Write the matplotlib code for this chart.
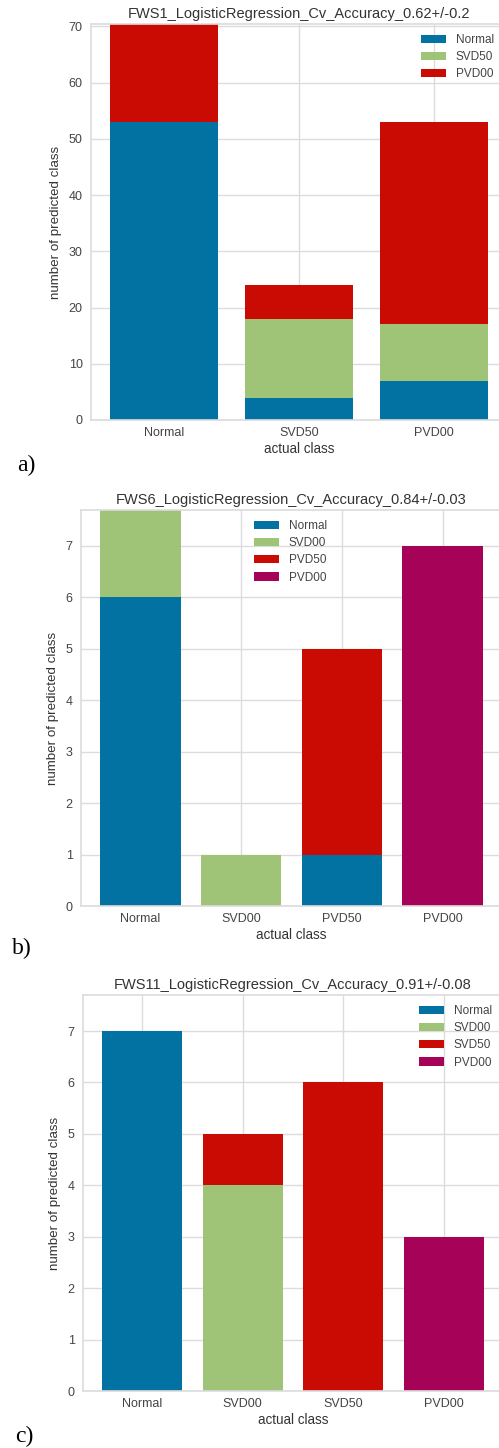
import numpy as np
import matplotlib
matplotlib.use("Agg")
import matplotlib.pyplot as plt

# class prediction error, three feature sets
A_TITLE = "FWS1_LogisticRegression_Cv_Accuracy_0.62+/-0.2"
A_CLASSES = ["Normal", "SVD50", "PVD00"]
A_COUNTS = [
    [53, 4, 7],    # predicted Normal
    [0, 14, 10],   # predicted SVD50
    [18, 6, 36],   # predicted PVD00
]

B_TITLE = "FWS6_LogisticRegression_Cv_Accuracy_0.84+/-0.03"
B_CLASSES = ["Normal", "SVD00", "PVD50", "PVD00"]
B_COUNTS = [
    [6, 0, 1, 0],
    [2, 1, 0, 0],
    [0, 0, 4, 0],
    [0, 0, 0, 7],
]

C_TITLE = "FWS11_LogisticRegression_Cv_Accuracy_0.91+/-0.08"
C_CLASSES = ["Normal", "SVD00", "SVD50", "PVD00"]
C_COUNTS = [
    [7, 0, 0, 0],
    [0, 4, 0, 0],
    [0, 1, 6, 0],
    [0, 0, 0, 3],
]

COLORS = ["#0272a2", "#9fc377", "#ca0b03", "#a50258"]

W, H = 499, 1448
TEXT = "#444444"
GRID = "#dcdcdc"

plt.rcParams["font.family"] = ["Liberation Sans", "DejaVu Sans"]

fig = plt.figure(figsize=(W / 100, H / 100), dpi=100)


def px_axes(left, top, right, bottom):
    return fig.add_axes([left / W, 1 - bottom / H, (right - left) / W, (bottom - top) / H])


def draw_panel(box, title, classes, counts, legend_xy, tag, tag_xy):
    ax = px_axes(*box)
    idx = np.arange(len(classes))
    prev = np.zeros(len(classes))
    for row, name, color in zip(counts, classes, COLORS):
        ax.bar(idx, row, bottom=prev, width=0.8, color=color, label=name,
               linewidth=0, zorder=2)
        prev += np.array(row)
    cmax = max(sum(r) for r in counts)
    ax.set_ylim(0, cmax * 1.1)
    n = len(classes)
    ax.set_xlim(-0.4 - 0.05 * (n - 0.2), n - 0.6 + 0.05 * (n - 0.2))
    ax.set_xticks(idx)
    ax.set_xticklabels(classes)
    ax.set_facecolor("white")
    ax.grid(True, color=GRID, linewidth=1.0, zorder=0)
    ax.set_axisbelow(True)
    for sp in ax.spines.values():
        sp.set_color(GRID)
        sp.set_linewidth(1.2)
    ax.tick_params(length=0, labelsize=9, labelcolor=TEXT)
    ax.tick_params(axis="y", pad=6)
    ax.tick_params(axis="x", pad=5)
    ax.set_title(title, fontsize=10.5, color="#333333", pad=4)
    ax.set_xlabel("actual class", fontsize=9.75, color="#333333", labelpad=2)
    ax.set_ylabel("number of predicted class", fontsize=9.6, color="#333333", labelpad=5)
    ax.legend(loc="upper left", bbox_to_anchor=(legend_xy[0] / W, 1 - legend_xy[1] / H),
              bbox_transform=fig.transFigure, frameon=False, fontsize=8.5,
              borderpad=0, borderaxespad=0, handlelength=2.1, handleheight=0.7,
              handletextpad=0.85, labelspacing=0.44, labelcolor=TEXT)
    fig.text(tag_xy[0] / W, 1 - tag_xy[1] / H, tag, family="Liberation Serif",
             fontsize=17, ha="center", va="center", color="black")
    return ax


draw_panel((91, 24, 507, 420), A_TITLE, A_CLASSES, A_COUNTS, (421, 34), "a)", (26, 465))
draw_panel((81, 510, 502, 906), B_TITLE, B_CLASSES, B_COUNTS, (254, 520), "b)", (22, 948))
draw_panel((83, 995, 503, 1391), C_TITLE, C_CLASSES, C_COUNTS, (419, 1005), "c)", (24, 1436))

fig.savefig("out.png", dpi=100, facecolor="white")
